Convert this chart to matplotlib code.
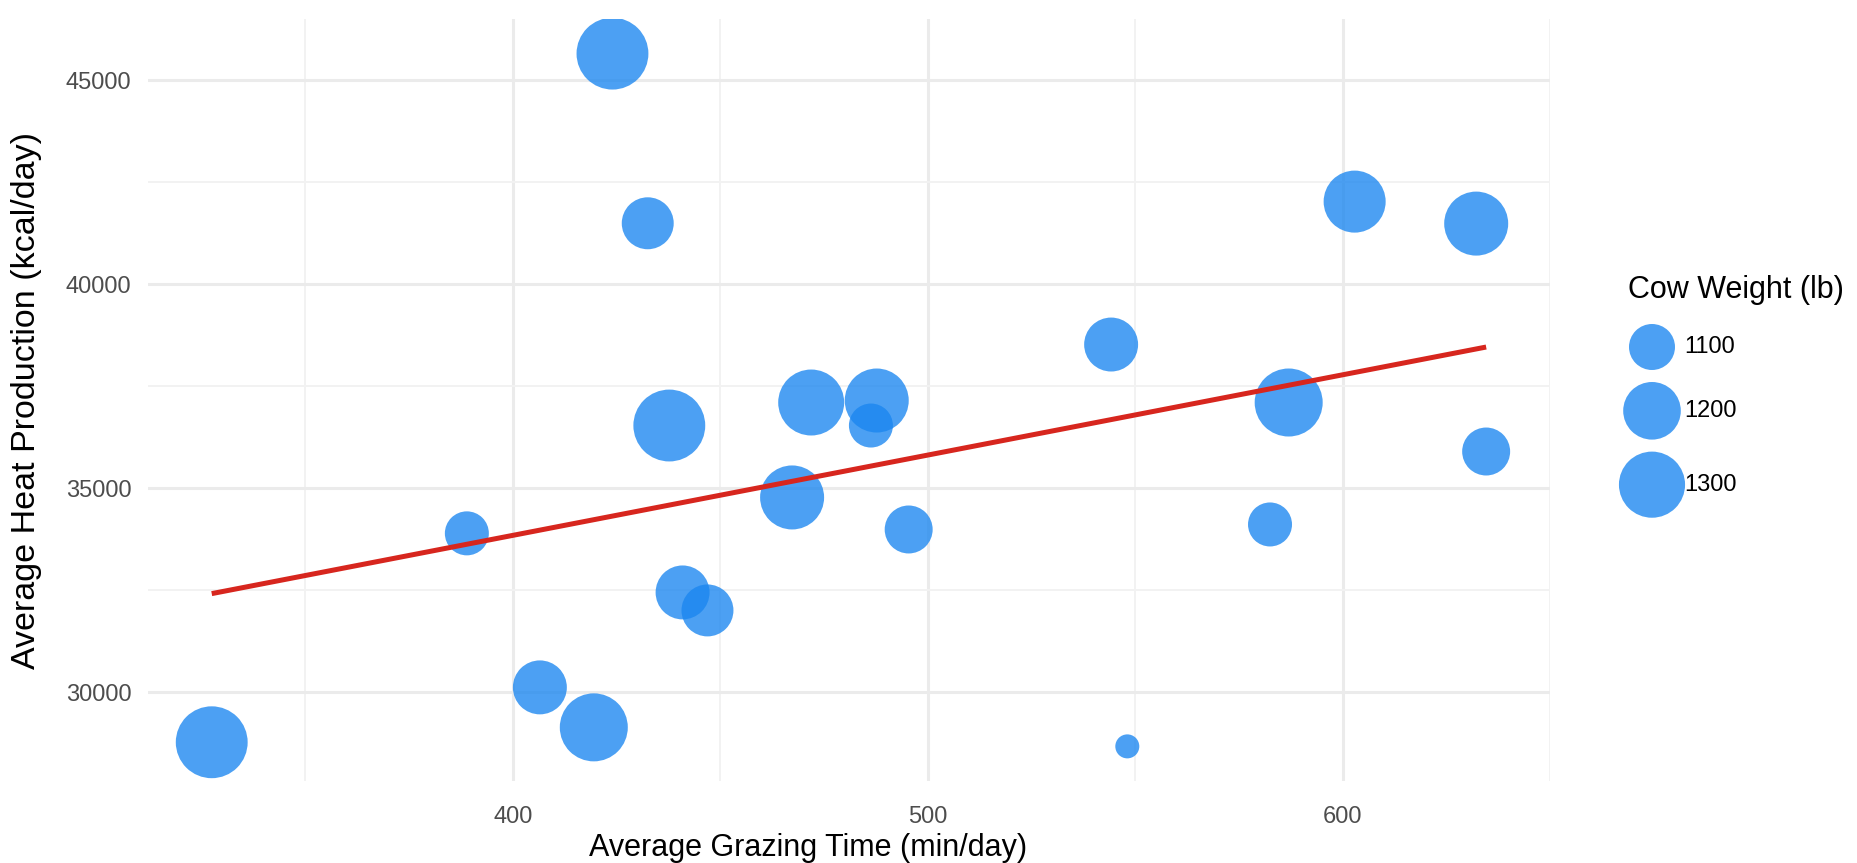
import numpy as np
import matplotlib.pyplot as plt

plt.rcParams['font.family'] = ['Liberation Sans', 'DejaVu Sans']

# values
grazing = [327.4, 388.9, 406.5, 419.5, 424.0, 432.5, 437.7, 440.9, 446.9, 467.3, 471.9,
           486.3, 487.7, 495.4, 544.2, 548.1, 582.5, 587.0, 602.9, 632.2, 634.6]
heat = [28780, 33900, 30125, 29145, 45658, 41500, 36543, 32452, 32011, 34780, 37107,
        36543, 37156, 33995, 38528, 28679, 34118, 37107, 42031, 41492, 35906]
weight = [1380, 1087, 1164, 1325, 1380, 1146, 1380, 1164, 1146, 1273, 1298,
          1087, 1273, 1114, 1164, 1025, 1087, 1325, 1249, 1273, 1114]
legend_weights = [1100, 1200, 1300]

DPI = 100
W, H = 1857, 863
w_min, w_max = 1025, 1382


def radius_px(w):
    # radius grows with sqrt of rescaled weight, like ggplot's area scale
    w = np.asarray(w, dtype=float)
    return 12 + 24 * np.sqrt(np.clip((w - w_min) / (w_max - w_min), 0, 1))


def marker_area(w):
    return (2 * radius_px(w) * 72 / DPI) ** 2


x = np.array(grazing)
y = np.array(heat)

fig = plt.figure(figsize=(W / DPI, H / DPI), dpi=DPI)
ax = fig.add_axes([0.0797, 0.095, 0.755, 0.883])

blue = '#1A86F0'
alpha = 0.78
ax.scatter(x, y, s=marker_area(weight), color=blue, alpha=alpha, edgecolors='none', zorder=3)

# linear fit
slope, intercept = np.polyfit(x, y, 1)
xs = np.array([x.min(), x.max()])
ax.plot(xs, slope * xs + intercept, color='#D7261E', lw=3.6, zorder=4, solid_capstyle='butt')

xr = x.max() - x.min()
yr = y.max() - y.min()
ax.set_xlim(x.min() - 0.05 * xr, x.max() + 0.05 * xr)
ax.set_ylim(y.min() - 0.05 * yr, y.max() + 0.05 * yr)

ax.set_xticks([400, 500, 600])
ax.set_xticks([350, 450, 550, 650], minor=True)
ax.set_yticks([30000, 35000, 40000, 45000])
ax.set_yticks([32500, 37500, 42500], minor=True)
ax.grid(which='major', color='#EBEBEB', lw=2.2)
ax.grid(which='minor', color='#F2F2F2', lw=1.4)
ax.set_axisbelow(True)
for sp in ax.spines.values():
    sp.set_visible(False)
ax.tick_params(which='both', length=0, labelsize=17, labelcolor='#4D4D4D')
ax.tick_params(axis='x', pad=18)
ax.tick_params(axis='y', pad=12)

ax.set_xlabel('Average Grazing Time (min/day)', fontsize=22, va='center')
ax.xaxis.set_label_coords(0.471, -0.088)
ax.set_ylabel('Average Heat Production (kcal/day)', fontsize=24.5, va='center')
ax.yaxis.set_label_coords(-0.087, 0.5)

# size legend, laid out in pixel units on an overlay axes
lax = fig.add_axes([0, 0, 1, 1])
lax.set_xlim(0, W)
lax.set_ylim(H, 0)
lax.axis('off')
lax.text(1628, 290, 'Cow Weight (lb)', fontsize=22, va='center', ha='left')
r_leg = radius_px(legend_weights)
key_h = 2 * r_leg + 12
centers = 347 + np.concatenate([[0], np.cumsum((key_h[:-1] + key_h[1:]) / 2)])
lax.scatter(np.full(len(legend_weights), 1652), centers, s=marker_area(legend_weights),
            color=blue, alpha=alpha, edgecolors='none')
for cy, w in zip(centers, legend_weights):
    lax.text(1684, cy, str(w), fontsize=17, va='center', ha='left')

fig.savefig('out.png', dpi=DPI)
